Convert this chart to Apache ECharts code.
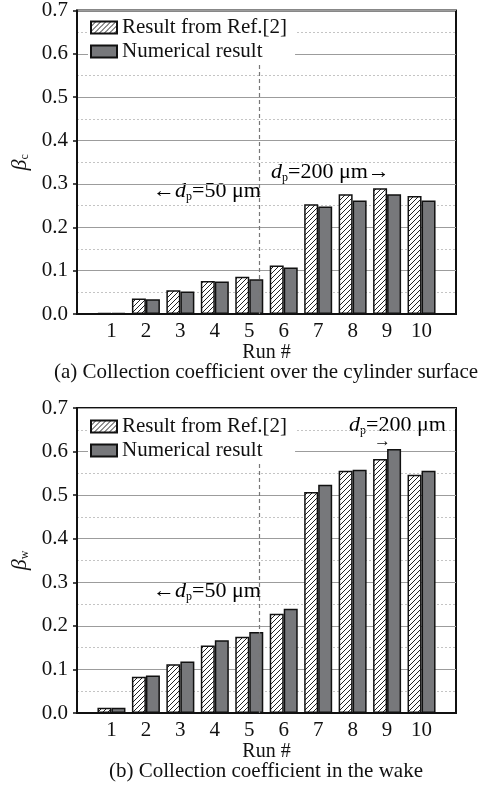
<!DOCTYPE html>
<html>
<head>
<meta charset="utf-8">
<script src="https://cdn.jsdelivr.net/npm/echarts@6/dist/echarts.min.js"></script>
<style>
html,body{margin:0;padding:0;background:#fff;}
#c{width:488px;height:789px;}
</style>
</head>
<body>
<div id="c"></div>
<script>
// ---- data ----
var runs = [1, 2, 3, 4, 5, 6, 7, 8, 9, 10];
var refSurface = [0.002, 0.036, 0.055, 0.076, 0.086, 0.112, 0.253, 0.276, 0.290, 0.272];
var numSurface = [0.002, 0.034, 0.052, 0.075, 0.080, 0.107, 0.248, 0.262, 0.276, 0.262];
var refWake = [0.012, 0.083, 0.112, 0.155, 0.175, 0.228, 0.507, 0.556, 0.583, 0.547];
var numWake = [0.012, 0.086, 0.118, 0.167, 0.186, 0.239, 0.524, 0.558, 0.606, 0.556];
var yTicks = [0.0, 0.1, 0.2, 0.3, 0.4, 0.5, 0.6, 0.7];
var seriesNames = ['Result from Ref.[2]', 'Numerical result'];
var captions = ['(a) Collection coefficient over the cylinder surface', '(b) Collection coefficient in the wake'];
var dividerRun = 5.5;

// ---- hatch pattern ----
function makeHatch() {
  var s = 5;
  var cv = document.createElement('canvas');
  cv.width = s; cv.height = s;
  var ctx = cv.getContext('2d');
  ctx.fillStyle = '#fff';
  ctx.fillRect(0, 0, s, s);
  ctx.strokeStyle = '#222';
  ctx.lineWidth = 1;
  ctx.beginPath();
  ctx.moveTo(-1, s + 1); ctx.lineTo(s + 1, -1);
  ctx.moveTo(-1, 1); ctx.lineTo(1, -1);
  ctx.moveTo(s - 1, s + 1); ctx.lineTo(s + 1, s - 1);
  ctx.stroke();
  return cv;
}
var hatch = { image: makeHatch(), repeat: 'repeat' };
var grayFill = '#77787b';
var FONT = 'Liberation Serif';

var chart = echarts.init(document.getElementById('c'), null, { renderer: 'canvas' });

function pairData(vals) { return runs.map(function (r, i) { return [r, vals[i]]; }); }

var gridTops = [9, 408];
var gridH = 305;

function xAxisFor(i) {
  return {
    type: 'value', gridIndex: i, min: 0, max: 11, interval: 1,
    name: 'Run #', nameLocation: 'middle', nameGap: 28,
    nameTextStyle: { fontFamily: FONT, fontSize: 20, color: '#111' },
    axisLine: { show: true, onZero: false, lineStyle: { color: '#111', width: 2 } },
    axisTick: { show: false },
    splitLine: { show: false },
    axisLabel: {
      fontFamily: FONT, fontSize: 21, color: '#111', margin: 7,
      formatter: function (v) { return (v >= 1 && v <= 10) ? String(v) : ''; }
    }
  };
}
function yAxisFor(i, sub) {
  return {
    type: 'value', gridIndex: i, min: yTicks[0], max: yTicks[yTicks.length - 1], interval: 0.1,
    name: '{b|β}{s|' + sub + '}', nameLocation: 'middle', nameRotate: 90, nameGap: 45,
    nameTextStyle: {
      rich: {
        b: { fontFamily: FONT, fontStyle: 'italic', fontSize: 22, color: '#111' },
        s: { fontFamily: FONT, fontSize: 12, color: '#111', verticalAlign: 'bottom', padding: [8, 0, 0, 0] }
      }
    },
    axisLine: { show: true, lineStyle: { color: '#111', width: 2 } },
    axisTick: { show: true, length: 4, lineStyle: { color: '#111', width: 1.5 } },
    axisLabel: {
      fontFamily: FONT, fontSize: 21, color: '#111', margin: 9,
      formatter: function (v) { return v.toFixed(1); }
    },
    splitLine: { show: true, lineStyle: { color: '#9c9c9c', width: 1 } },
    minorTick: { show: false, splitNumber: 2 },
    minorSplitLine: { show: true, lineStyle: { color: '#c4c4c4', width: 1, type: [2, 2] } }
  };
}

function divider() {
  return {
    silent: true, symbol: 'none',
    label: { show: false },
    lineStyle: { color: '#777', width: 1.2, type: [4, 3] },
    data: [[{ coord: [dividerRun, 0] }, { coord: [dividerRun, 0.575] }]]
  };
}

function barSeries(gi, name, vals, isRef, withDivider) {
  var s = {
    name: name, type: 'bar', xAxisIndex: gi, yAxisIndex: gi,
    data: pairData(vals), barWidth: 14, barGap: '0%',
    itemStyle: { color: isRef ? hatch : grayFill, borderColor: '#111', borderWidth: 1.5 },
    emphasis: { disabled: true }, animation: false
  };
  if (withDivider) s.markLine = divider();
  return s;
}

var rich = {
  d: { fontFamily: FONT, fontStyle: 'italic', fontSize: 22, color: '#111' },
  p: { fontFamily: FONT, fontSize: 12, color: '#111', verticalAlign: 'bottom', padding: [11, 0, 0, 0] },
  t: { fontFamily: FONT, fontSize: 22, color: '#111' }
};

function legendFor(top) {
  return {
    data: seriesNames, orient: 'vertical', left: 88, top: top,
    icon: 'rect',
    itemWidth: 26, itemHeight: 12, itemGap: 3,
    backgroundColor: '#fff', padding: [1, 8, 1, 2],
    selectedMode: false,
    textStyle: { fontFamily: FONT, fontSize: 21, color: '#111', lineHeight: 21 }
  };
}

var capStyle = { fontFamily: FONT, fontSize: 21, fontWeight: 'normal', color: '#111' };

var option = {
  animation: false,
  backgroundColor: '#fff',
  grid: [
    { left: 77, top: gridTops[0], width: 379, height: gridH, show: true, borderColor: '#111', borderWidth: 2, backgroundColor: 'transparent' },
    { left: 77, top: gridTops[1], width: 379, height: gridH, show: true, borderColor: '#111', borderWidth: 2, backgroundColor: 'transparent' }
  ],
  title: [
    { text: captions[0], left: 266, textAlign: 'center', top: 362, textStyle: capStyle, padding: 0 },
    { text: captions[1], left: 266, textAlign: 'center', top: 761, textStyle: capStyle, padding: 0 }
  ],
  legend: [legendFor(16), legendFor(415)],
  xAxis: [xAxisFor(0), xAxisFor(1)],
  yAxis: [yAxisFor(0, 'c'), yAxisFor(1, 'w')],
  series: [
    barSeries(0, seriesNames[0], refSurface, true, true),
    barSeries(0, seriesNames[1], numSurface, false, false),
    barSeries(1, seriesNames[0], refWake, true, true),
    barSeries(1, seriesNames[1], numWake, false, false)
  ],
  graphic: [
    { type: 'text', left: 153, top: 180, style: { text: '{t|←}{d|d}{p|p}{t|=50 μm}', rich: rich } },
    { type: 'text', left: 271, top: 161, style: { text: '{d|d}{p|p}{t|=200 μm→}', rich: rich } },
    { type: 'text', left: 153, top: 580, style: { text: '{t|←}{d|d}{p|p}{t|=50 μm}', rich: rich } },
    { type: 'text', left: 349, top: 414, style: { text: '{d|d}{p|p}{t|=200 μm}', rich: rich } },
    { type: 'text', left: 374, top: 433, style: { text: '→', font: '17px ' + FONT, fill: '#111' } }
  ]
};
chart.setOption(option);
</script>
</body>
</html>
